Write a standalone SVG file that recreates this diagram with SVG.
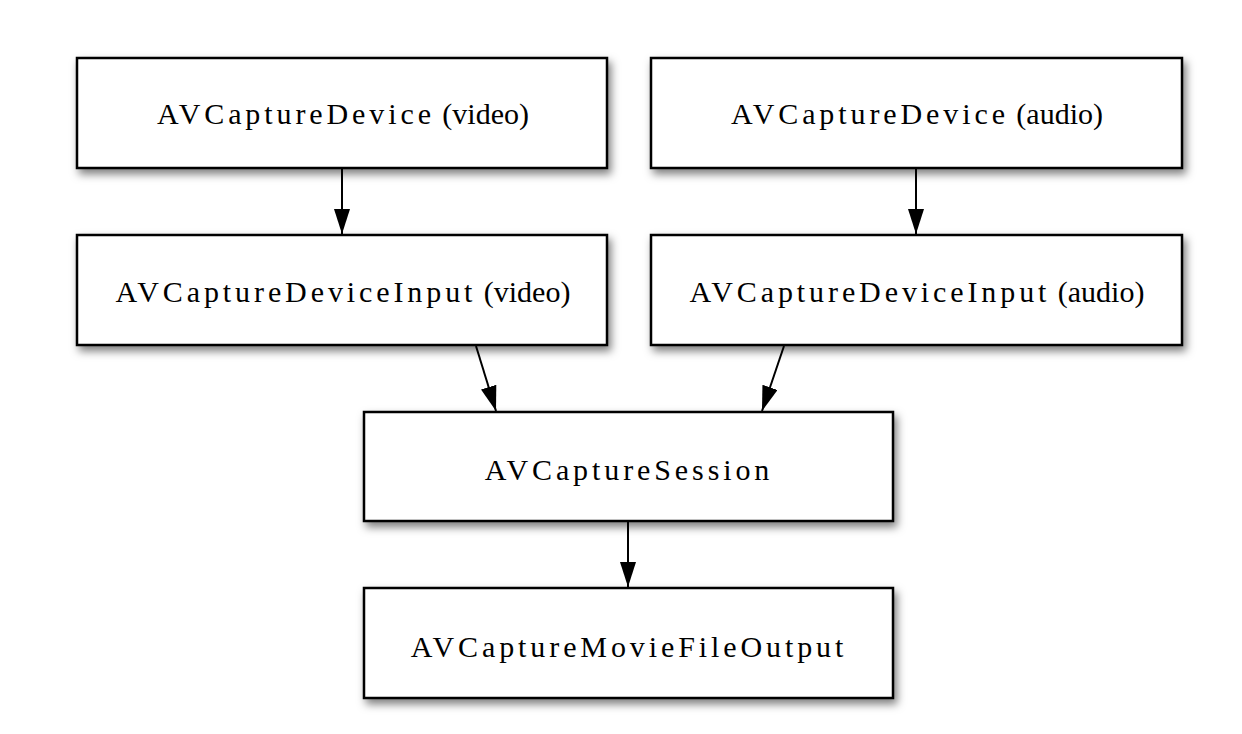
<svg xmlns="http://www.w3.org/2000/svg" width="1242" height="734" viewBox="0 0 1242 734">
<style>
.box{fill:#fff;stroke:#000;stroke-width:2.5;filter:url(#sh)}
.lbl{font-family:"Liberation Serif","Times New Roman",serif;font-size:30px;fill:#000;text-anchor:middle}
.cls{letter-spacing:3.9px}
.con{stroke:#000;stroke-width:2;fill:none;marker-end:url(#ah)}
</style>
<defs>
<filter id="sh" x="-10%" y="-20%" width="125%" height="150%">
<feDropShadow dx="3" dy="5" stdDeviation="4.5" flood-color="#000" flood-opacity="0.5"/>
</filter>
<marker id="ah" markerWidth="25" markerHeight="16" refX="25" refY="8" viewBox="0 0 25 16" orient="auto" markerUnits="userSpaceOnUse">
<path d="M0,0 L25,8 L0,16 Z" fill="#000"/>
</marker>
</defs>
<rect width="1242" height="734" fill="#fff"/>
<g id="dev-video"><rect class="box" x="77" y="58" width="530" height="110"/><text class="lbl" x="343" y="124"><tspan class="cls">AVCaptureDevice</tspan> (video)</text></g>
<g id="dev-audio"><rect class="box" x="651" y="58" width="531" height="110"/><text class="lbl" x="917" y="124"><tspan class="cls">AVCaptureDevice</tspan> (audio)</text></g>
<g id="in-video"><rect class="box" x="77" y="235" width="530" height="110"/><text class="lbl" x="343" y="302"><tspan class="cls">AVCaptureDeviceInput</tspan> (video)</text></g>
<g id="in-audio"><rect class="box" x="651" y="235" width="531" height="110"/><text class="lbl" x="917" y="302"><tspan class="cls">AVCaptureDeviceInput</tspan> (audio)</text></g>
<g id="session"><rect class="box" x="364" y="412" width="529" height="109"/><text class="lbl" x="629" y="480"><tspan class="cls">AVCaptureSession</tspan></text></g>
<g id="output"><rect class="box" x="364" y="588" width="529" height="110"/><text class="lbl" x="629" y="657"><tspan class="cls">AVCaptureMovieFileOutput</tspan></text></g>
<g id="connectors">
<line class="con" x1="342" y1="169" x2="342" y2="234"/>
<line class="con" x1="916" y1="169" x2="916" y2="234"/>
<line class="con" x1="476" y1="346" x2="496" y2="411"/>
<line class="con" x1="784" y1="346" x2="762" y2="411"/>
<line class="con" x1="628" y1="522" x2="628" y2="587"/>
</g>
</svg>
